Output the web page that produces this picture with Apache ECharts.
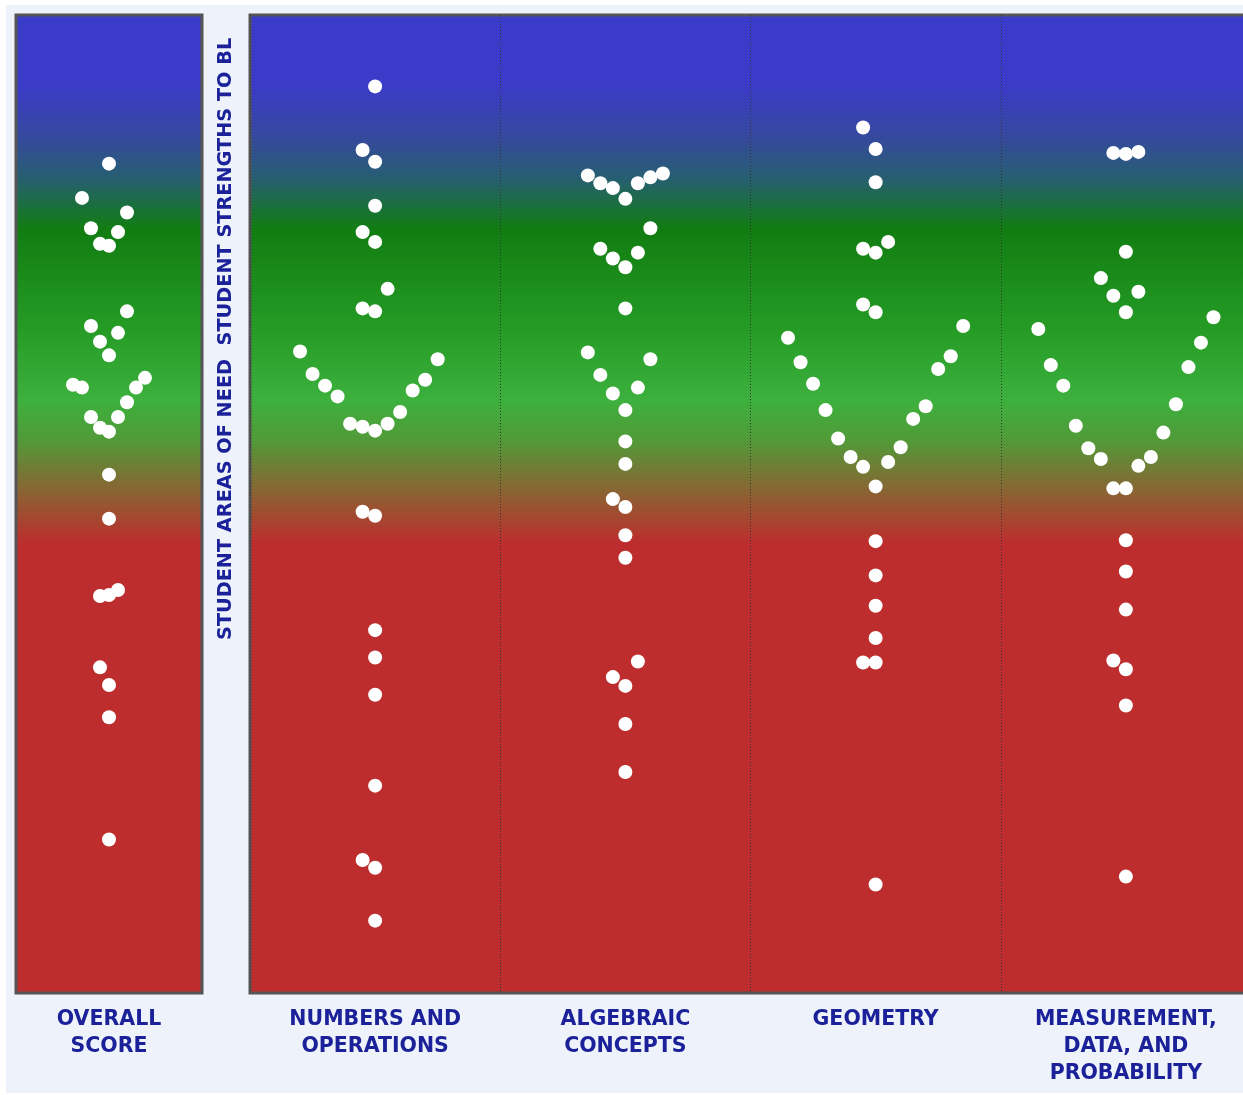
<!DOCTYPE html>
<html>
<head>
<meta charset="utf-8">
<style>
  html, body { margin: 0; padding: 0; background: #ffffff; overflow: hidden; width: 1243px; height: 1095px; }
  #bg { position: absolute; left: 6px; top: 5px; width: 1237px; height: 1088px; background: #eef2fa; }
  #chart { position: absolute; left: 0; top: 0; width: 1262px; height: 1095px; }
</style>
<script src="https://cdn.jsdelivr.net/npm/echarts@6/dist/echarts.min.js"></script>
</head>
<body>
<div id="bg"></div>
<div id="chart"></div>
<script>
// ---- Data (lane = horizontal beeswarm slot, score = vertical position 0-100) ----
const overallCategory = ['OVERALL\nSCORE'];
const domainCategories = ['NUMBERS AND\nOPERATIONS', 'ALGEBRAIC\nCONCEPTS', 'GEOMETRY', 'MEASUREMENT,\nDATA, AND\nPROBABILITY'];
const sideLabel = 'STUDENT AREAS OF NEED  STUDENT STRENGTHS TO BL';

const overallLane  = [0, -3, 2, -2, 1, -1, 0, 2, -2, 1, -1, 0, 4, -4, -3, 3, 2, -2, 1, -1, 0, 0, 0, -1, 0, 1, -1, 0, 0, 0];
const overallScore = [84.8, 81.3, 79.8, 78.2, 77.8, 76.6, 76.4, 69.7, 68.2, 67.5, 66.6, 65.2, 62.9, 62.2, 61.9, 61.9, 60.4, 58.9, 58.9, 57.8, 57.4, 53.0, 48.5, 40.6, 40.7, 41.2, 33.3, 31.5, 28.2, 15.7];

const numbersLane  = [0, -1, 0, 0, -1, 0, 1, -1, 0, -6, -5, -4, -3, -2, -1, 0, 1, 2, 3, 4, 5, -1, 0, 0, 0, 0, 0, -1, 0, 0];
const numbersScore = [92.7, 86.2, 85.0, 80.5, 77.8, 76.8, 72.0, 70.0, 69.7, 65.6, 63.3, 62.1, 61.0, 58.2, 57.9, 57.5, 58.2, 59.4, 61.6, 62.7, 64.8, 49.2, 48.8, 37.1, 34.3, 30.5, 21.2, 13.6, 12.8, 7.4];

const algebraLane  = [-3, -2, -1, 0, 1, 2, 3, 2, -2, -1, 0, 1, 0, -3, 2, -2, -1, 1, 0, 0, 0, -1, 0, 0, 0, -1, 0, 1, 0, 0];
const algebraScore = [83.6, 82.8, 82.3, 81.2, 82.8, 83.4, 83.8, 78.2, 76.1, 75.1, 74.2, 75.7, 70.0, 65.5, 64.8, 63.2, 61.3, 61.9, 59.6, 56.4, 54.1, 50.5, 49.7, 46.8, 44.5, 32.3, 31.4, 33.9, 27.5, 22.6];

const geometryLane  = [-1, 0, 0, -1, 0, 1, -1, 0, -7, -6, -5, -4, -3, -2, -1, 0, 1, 2, 3, 4, 5, 6, 7, 0, 0, 0, 0, -1, 0, 0];
const geometryScore = [88.5, 86.3, 82.9, 76.1, 75.7, 76.8, 70.4, 69.6, 67.0, 64.5, 62.3, 59.6, 56.7, 54.8, 53.8, 51.8, 54.3, 55.8, 58.7, 60.0, 63.8, 65.1, 68.2, 46.2, 42.7, 39.6, 36.3, 33.8, 33.8, 11.1];

const measureLane  = [-1, 0, 1, 0, -2, -1, 1, 0, -7, -6, -5, -4, -3, -2, -1, 0, 1, 2, 3, 4, 5, 6, 7, 0, 0, 0, -1, 0, 0, 0];
const measureScore = [85.9, 85.8, 86.0, 75.8, 73.1, 71.3, 71.7, 69.6, 67.9, 64.2, 62.1, 58.0, 55.7, 54.6, 51.6, 51.6, 53.9, 54.8, 57.3, 60.2, 64.0, 66.5, 69.1, 46.3, 43.1, 39.2, 34.0, 33.1, 29.4, 11.9];

// ---- Build ----
const domainLanes  = [numbersLane, algebraLane, geometryLane, measureLane];
const domainScores = [numbersScore, algebraScore, geometryScore, measureScore];
const LANES_PER_COLUMN = 20;

function zipData(lanes, scores, offset) {
  return lanes.map((l, i) => [offset + l, scores[i]]);
}

const bgGradient = {
  type: 'linear', x: 0, y: 0, x2: 0, y2: 1,
  colorStops: [
    { offset: 0.000, color: '#3b3bc9' },
    { offset: 0.072, color: '#3b3bc9' },
    { offset: 0.124, color: '#36489f' },
    { offset: 0.167, color: '#275e72' },
    { offset: 0.220, color: '#117d11' },
    { offset: 0.320, color: '#259b25' },
    { offset: 0.395, color: '#3db03d' },
    { offset: 0.435, color: '#519a38' },
    { offset: 0.487, color: '#8a6433' },
    { offset: 0.540, color: '#bd2d2d' },
    { offset: 1.000, color: '#bd2d2d' }
  ]
};

const labelStyle = {
  color: '#1b2299',
  fontFamily: 'DejaVu Sans',
  fontWeight: 'bold',
  fontSize: 20.5,
  lineHeight: 27
};

const gridCommon = {
  show: true,
  top: 15,
  height: 978,
  backgroundColor: bgGradient,
  borderColor: '#555555',
  borderWidth: 3,
  containLabel: false
};

const series = [];
series.push({
  type: 'scatter', xAxisIndex: 0, yAxisIndex: 0,
  symbol: 'circle', symbolSize: 14,
  itemStyle: { color: '#ffffff', opacity: 1 },
  silent: true, z: 5,
  data: zipData(overallLane, overallScore, 0)
});
domainCategories.forEach((name, i) => {
  series.push({
    type: 'scatter', xAxisIndex: 2, yAxisIndex: 1,
    symbol: 'circle', symbolSize: 14,
    itemStyle: { color: '#ffffff', opacity: 1 },
    silent: true, z: 5,
    data: zipData(domainLanes[i], domainScores[i], LANES_PER_COLUMN * i + LANES_PER_COLUMN / 2)
  });
});

const chart = echarts.init(document.getElementById('chart'), null, { renderer: 'canvas' });
chart.setOption({
  backgroundColor: 'transparent',
  animation: false,
  grid: [
    Object.assign({ left: 16, width: 186 }, gridCommon),
    Object.assign({ left: 250, width: 1001 }, gridCommon)
  ],
  xAxis: [
    { type: 'value', gridIndex: 0, min: -10.33, max: 10.33, show: false },
    { type: 'category', gridIndex: 0, data: overallCategory, boundaryGap: true, position: 'bottom',
      axisLine: { show: false }, axisTick: { show: false }, splitLine: { show: false },
      axisLabel: Object.assign({ margin: 13, interval: 0 }, labelStyle) },
    { type: 'value', gridIndex: 1, min: 0, max: LANES_PER_COLUMN * domainCategories.length, show: false },
    { type: 'category', gridIndex: 1, data: domainCategories, boundaryGap: true, position: 'bottom',
      axisLine: { show: false }, axisTick: { show: false },
      splitLine: { show: true, interval: 0, lineStyle: { color: '#333333', width: 1, type: [1, 2] } },
      axisLabel: Object.assign({ margin: 13, interval: 0 }, labelStyle) }
  ],
  yAxis: [
    { type: 'value', gridIndex: 0, min: 0, max: 100, show: false },
    { type: 'value', gridIndex: 1, min: 0, max: 100, show: false }
  ],
  graphic: [
    {
      type: 'text', x: 226, y: 640, rotation: Math.PI / 2, z: 10,
      style: {
        text: sideLabel,
        fill: '#1b2299',
        font: 'bold 19.3px "DejaVu Sans"',
        align: 'left', verticalAlign: 'middle',
        textAlign: 'left', textVerticalAlign: 'middle'
      }
    }
  ],
  series: series
});
</script>
</body>
</html>
